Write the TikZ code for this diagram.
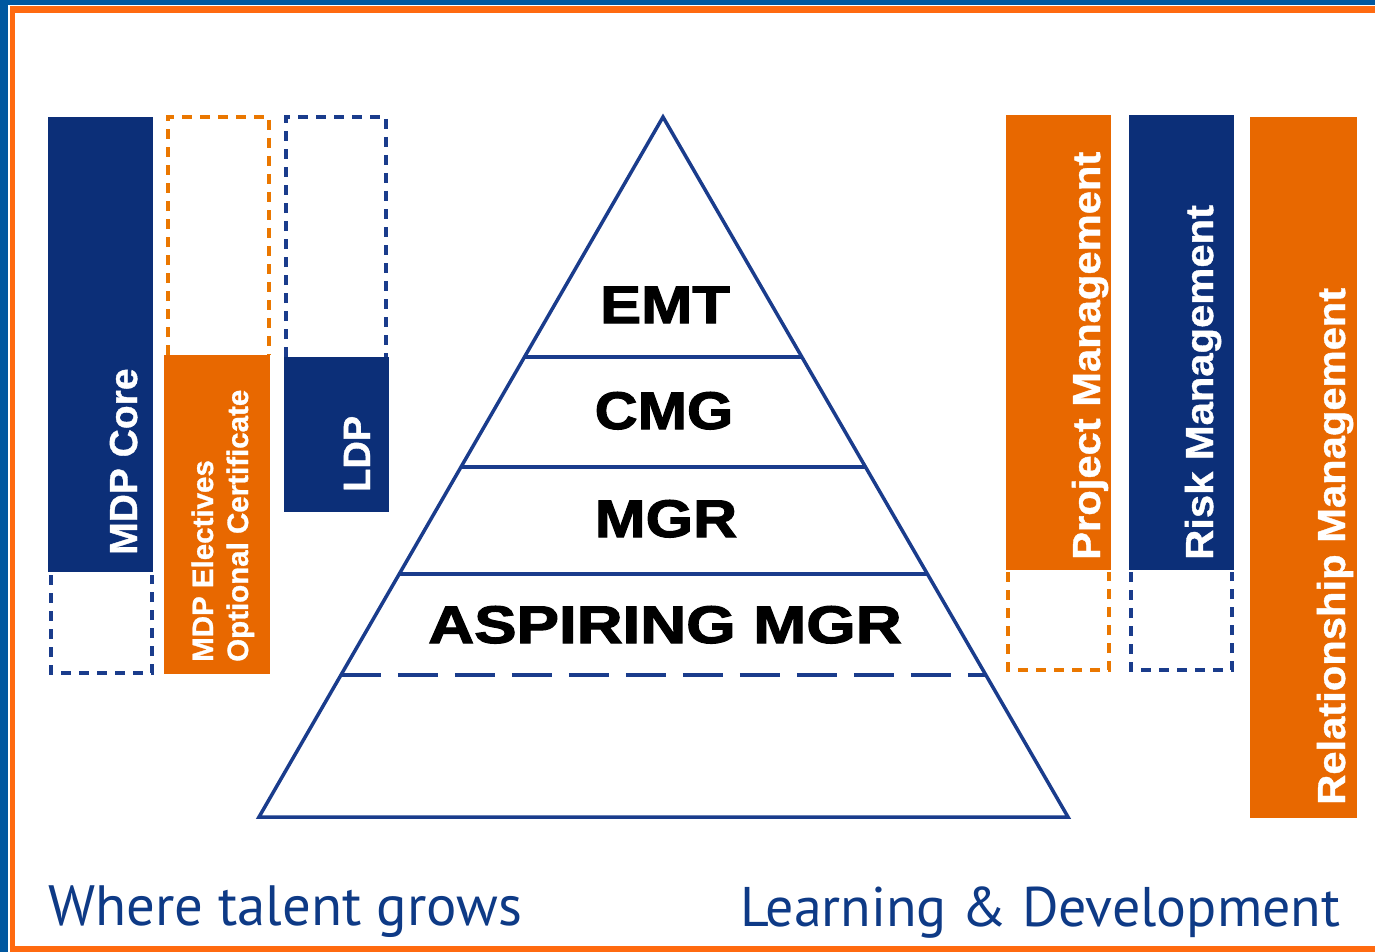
\documentclass[tikz,border=0pt]{standalone}
\usepackage{fontspec}
\usepackage{graphicx}
\usetikzlibrary{calc}

\newfontfamily\labelfont{Liberation Sans}[UprightFont={* Bold},FakeBold=1]
\newfontfamily\tierfont{Liberation Sans}[UprightFont={* Bold},FakeBold=2]
\newfontfamily\taglinefont{PT Sans}

\definecolor{navy}{HTML}{0C2F78}
\definecolor{brand}{HTML}{E86800}
\definecolor{pyrline}{HTML}{1A3C8C}
\definecolor{frameblue}{HTML}{0058A0}
\definecolor{frameorange}{HTML}{FF6A10}
\definecolor{tagblue}{HTML}{0E3A86}

% size, horizontal stretch, text
\newcommand\sizedtext[3]{{\fontsize{#1}{#1}\selectfont\scalebox{#2}[1]{#3}}}

\tikzset{
  boxlabel/.style={rotate=90, anchor=base west, inner sep=0pt, text=white, font=\labelfont},
  tierlabel/.style={anchor=base, inner sep=0pt, text=black, font=\tierfont},
  tagline/.style={anchor=base west, inner sep=0pt, text=tagblue, font=\taglinefont},
  bluedash/.style={draw=pyrline, line width=4pt, dash pattern=on 10pt off 8pt},
  orangedash/.style={draw=brand!90!yellow, line width=4pt, dash pattern=on 10pt off 8pt},
  pyr/.style={draw=pyrline, line width=3.5pt},
}

\begin{document}
\begin{tikzpicture}[x=1pt, y=-1pt]
\useasboundingbox (0,0) rectangle (1375,952);

% frame: blue band, thin white gap, orange rule, white page
\fill[frameblue] (0,0) rectangle (1375,952);
\fill[white] (8,5) rectangle (1375,952);
\fill[frameorange] (9.5,6.5) rectangle (1375,952);
\fill[white] (15,13.5) rectangle (1375,945.5);

% ---- left columns ----
\draw[bluedash] (51,575) -- (51,673) -- (152,673) -- (152,575);
\fill[navy] (48,117) rectangle (153,572);

\draw[orangedash] (168,355) -- (168,117) -- (269,117) -- (269,355);
\fill[brand] (164,355) rectangle (270,674);

\draw[bluedash] (286,357) -- (286,117) -- (386,117) -- (386,357);
\fill[navy] (284,357) rectangle (389,512);

\node[boxlabel] (mdpcore) at (137,555) {\sizedtext{39}{1.0}{MDP Core}};
\node[boxlabel] (mdpelec) at (213,662) {\sizedtext{29.5}{1.0}{MDP Electives}};
\node[boxlabel] (optcert) at (248,662) {\sizedtext{29.5}{1.0}{Optional Certificate}};
\node[boxlabel] (ldp) at (370,492) {\sizedtext{38}{1.0}{LDP}};

% ---- right columns ----
\draw[orangedash] (1008,572) -- (1008,670) -- (1109,670) -- (1109,572);
\fill[brand] (1006,115) rectangle (1111,570);

\draw[bluedash] (1131,572) -- (1131,670) -- (1232,670) -- (1232,572);
\fill[navy] (1129,115) rectangle (1234,570);

\fill[brand] (1250,117) rectangle (1357,818);

\node[boxlabel] (projmgmt) at (1100,560) {\sizedtext{39}{1.07}{Project Management}};
\node[boxlabel] (riskmgmt) at (1213,560) {\sizedtext{39}{1.07}{Risk Management}};
\node[boxlabel] (relmgmt) at (1345,805) {\sizedtext{39}{1.07}{Relationship Management}};

% ---- pyramid ----
\coordinate (apex) at (663,117);
\coordinate (bl) at (259,817);
\coordinate (br) at (1068,817);
\draw[pyr] (apex) -- (bl) -- (br) -- cycle;
\draw[pyr] ($(apex)!0.3429!(bl)$) -- ($(apex)!0.3429!(br)$);
\draw[pyr] ($(apex)!0.5!(bl)$) -- ($(apex)!0.5!(br)$);
\draw[pyr] ($(apex)!0.6529!(bl)$) -- ($(apex)!0.6529!(br)$);
\draw[pyr, dash pattern=on 40pt off 17pt] ($(apex)!0.7971!(bl)$) -- ($(apex)!0.7971!(br)$);

\node[tierlabel] (emt) at (665,323) {\sizedtext{53}{1.16}{EMT}};
\node[tierlabel] (cmg) at (664,429) {\sizedtext{53}{1.12}{CMG}};
\node[tierlabel] (mgr) at (666,537) {\sizedtext{53}{1.15}{MGR}};
\node[tierlabel] (aspiring) at (665,643) {\sizedtext{53}{1.20}{ASPIRING MGR}};

% ---- taglines ----
\node[tagline] (talent) at (48,925) {\resizebox{474pt}{!}{\fontsize{56}{60}\selectfont Where talent grows}};
\node[tagline] (learning) at (740,926) {\resizebox{600pt}{!}{\fontsize{56}{60}\selectfont Learning \& Development}};
\end{tikzpicture}
\end{document}
